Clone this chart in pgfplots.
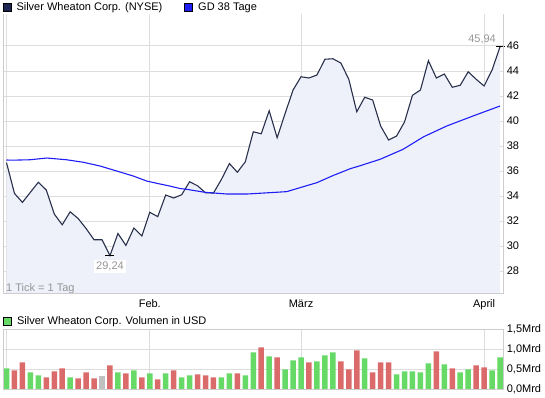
\documentclass[border=0pt]{standalone}
\usepackage{fontspec}
\setmainfont{Liberation Sans}
\usepackage{pgfplots}
\usepackage{pgfplotstable}
\pgfplotsset{compat=1.18}

\definecolor{pricecol}{RGB}{40,48,75}
\definecolor{legnavy}{RGB}{28,38,80}
\definecolor{fillcol}{RGB}{238,241,250}
\definecolor{macol}{RGB}{30,30,245}
\definecolor{gridcol}{RGB}{221,221,221}
\definecolor{bordercol}{RGB}{205,205,205}
\definecolor{upcol}{RGB}{102,217,102}
\definecolor{downcol}{RGB}{219,107,107}
\definecolor{flatcol}{RGB}{192,192,192}
\definecolor{labgray}{RGB}{150,150,150}

\pgfplotstableread{
i price
0 36.67
1 34.21
2 33.49
3 34.30
4 35.10
5 34.48
6 32.56
7 31.70
8 32.74
9 32.20
10 31.40
11 30.50
12 30.50
13 29.24
14 31.00
15 30.05
16 31.44
17 30.80
18 32.70
19 32.35
20 34.08
21 33.84
22 34.10
23 35.14
24 34.82
25 34.26
26 34.24
27 35.33
28 36.60
29 35.90
30 36.74
31 39.14
32 38.98
33 40.82
34 38.66
35 40.60
36 42.48
37 43.54
38 43.44
39 43.68
40 44.94
41 44.98
42 44.64
43 43.34
44 40.74
45 41.90
46 41.68
47 39.60
48 38.48
49 38.80
50 39.92
51 42.06
52 42.48
53 44.82
54 43.44
55 43.76
56 42.70
57 42.86
58 43.94
59 43.34
60 42.80
61 44.08
62 45.94
}\pricedata

\pgfplotstableread{
i ma
0 36.88
0.85 36.87
2.95 36.90
5.05 37.04
7.56 36.90
9.65 36.70
11.75 36.40
13.84 36.00
15.93 35.60
17.6 35.20
19.3 34.96
20.5 34.80
21.8 34.60
22.6 34.54
24.9 34.30
27.7 34.16
30.2 34.16
33.1 34.27
35.2 34.35
37.3 34.75
39.0 35.07
41.1 35.66
41.9 35.86
43.2 36.19
44.4 36.42
46.9 36.93
49.8 37.73
52.4 38.74
55.3 39.60
58.6 40.40
62 41.20
}\madata

\pgfplotstableread{
i vol
0 0.525
3 0.425
4 0.350
8 0.300
14 0.425
16 0.475
18 0.400
20 0.400
22 0.300
23 0.350
27 0.300
28 0.400
30 0.350
31 0.925
33 0.825
35 0.500
36 0.725
37 0.800
39 0.700
40 0.850
41 0.925
45 0.775
49 0.375
50 0.450
51 0.450
52 0.425
53 0.650
55 0.625
57 0.425
58 0.500
61 0.475
62 0.800
}\volup

\pgfplotstableread{
i vol
1 0.475
2 0.675
5 0.300
6 0.450
7 0.525
9 0.275
10 0.425
11 0.275
13 0.600
15 0.400
17 0.300
19 0.250
21 0.475
24 0.375
25 0.350
26 0.300
29 0.400
32 1.050
34 0.800
38 0.675
42 0.700
43 0.500
44 0.975
46 0.425
47 0.675
48 0.675
54 0.950
56 0.525
59 0.600
60 0.550
}\voldown

\pgfplotstableread{
i vol
12 0.325
}\volflat

\pgfplotsset{
  panel/.style={
    scale only axis, width=500.3pt,
    xmin=-0.44, xmax=62.41,
    axis line style={draw=none},
    major tick length=0pt,
    xtick={0,18,37,60},
    xmajorgrids, ymajorgrids,
    grid style={draw=gridcol, line width=1pt},
    yticklabel pos=right,
    tick label style={font=\fontsize{11}{13}\selectfont, text=black},
    /pgf/number format/assume math mode=true,
    legend cell align=left,
    legend style={draw=none, fill=none, inner sep=0pt, outer sep=0pt,
      font=\fontsize{11}{13}\selectfont,
      nodes={inner sep=0pt},
      /tikz/every odd column/.style={column sep=5pt},
      /tikz/every even column/.style={column sep=22pt}},
  },
  sqleg/.style={legend image code/.code={\filldraw[draw=black, fill=#1, line width=0.8pt] (0pt,-3.5pt) rectangle (8pt,4.5pt);}},
}

\begin{document}
\begin{tikzpicture}
\useasboundingbox (0pt,0pt) rectangle (545pt,398pt);

% ---------- price panel ----------
\begin{axis}[panel, name=price,
  at={(3pt,104.7pt)}, anchor=south west, height=279.3pt,
  ymin=26.22, ymax=48.56,
  ytick={28,30,...,46},
  xticklabels={,Feb.,März,April},
  xticklabel style={anchor=base, yshift=-14.7pt},
  legend columns=2,
  legend style={at={(-0.0006,1.0405)}, anchor=north west},
]
\addplot[draw=none, fill=fillcol, forget plot] table[x=i, y=price] {\pricedata} \closedcycle;
\addplot[pricecol, line width=1.1pt, sqleg=legnavy] table[x=i, y=price] {\pricedata};
\addlegendentry{Silver Wheaton Corp. (NYSE)}
\addplot[macol, line width=1.1pt, sqleg=macol] table[x=i, y=ma] {\madata};
\addlegendentry{GD 38 Tage}
\addplot[black, line width=1pt, only marks, mark=-, mark size=4.5pt, forget plot] coordinates {(13,29.24) (62,45.94)};
\node[text=labgray, anchor=east, inner sep=0pt, xshift=-4pt, yshift=7pt, font=\fontsize{11}{13}\selectfont] at (axis cs:62,45.94) {45,94};
\node[text=labgray, fill=white, inner sep=2pt, yshift=-11.3pt, font=\fontsize{11}{13}\selectfont] at (axis cs:13,29.24) {29,24};
\node[text=labgray, anchor=base west, inner sep=0pt, xshift=3pt, yshift=2pt, font=\fontsize{11}{13}\selectfont] at (rel axis cs:0,0) {1 Tick = 1 Tag};
\end{axis}
\draw[bordercol, line width=1pt] (price.north west) -- (price.south west) -- (price.south east) -- (price.north east);

% ---------- volume panel ----------
\begin{axis}[panel, name=vol,
  at={(3pt,8.7pt)}, anchor=south west, height=60pt,
  ymin=0, ymax=1.5,
  ytick={0,0.5,1,1.5},
  yticklabels={{0,0Mrd},{0,5Mrd},{1,0Mrd},{1,5Mrd}},
  xticklabels={},
  legend style={at={(0.0006,1.21)}, anchor=north west},
]
\addplot[ybar, bar width=5.5pt, bar shift=0pt, fill=upcol, draw=none, sqleg=upcol] table[x=i, y=vol] {\volup};
\addlegendentry{Silver Wheaton Corp. Volumen in USD}
\addplot[ybar, bar width=5.5pt, bar shift=0pt, fill=downcol, draw=none, forget plot] table[x=i, y=vol] {\voldown};
\addplot[ybar, bar width=5.5pt, bar shift=0pt, fill=flatcol, draw=none, forget plot] table[x=i, y=vol] {\volflat};
\end{axis}
\draw[bordercol, line width=1pt] (vol.north west) rectangle (vol.south east);
\end{tikzpicture}
\end{document}
